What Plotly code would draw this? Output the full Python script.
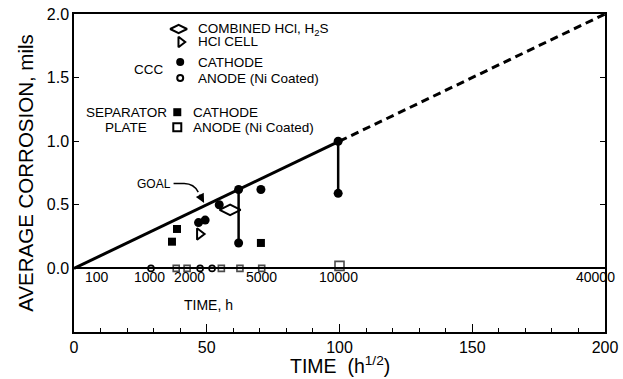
import plotly.graph_objects as go

# ---------------- data (x in h^1/2, y in mils) ----------------
goal_solid_x = [0, 100]
goal_solid_y = [0.0, 1.0]
goal_dash_x = [100, 200]
goal_dash_y = [1.0, 2.0]

combined_x = [58.8]
combined_y = [0.46]

hcl_cell_x = [47.3]
hcl_cell_y = [0.27]

ccc_cathode_x = [46.9, 49.4, 54.7, 62.0, 62.0, 70.4, 99.5, 99.5]
ccc_cathode_y = [0.36, 0.38, 0.50, 0.62, 0.20, 0.62, 1.00, 0.59]

# ranges joined by vertical bars (x, low, high)
range_x = [62.0, 99.5]
range_lo = [0.20, 0.59]
range_hi = [0.62, 1.00]

ccc_anode_x = [29.0, 47.5, 52.0]
ccc_anode_y = [0.0, 0.0, 0.0]

sep_cathode_x = [36.9, 38.8, 70.4]
sep_cathode_y = [0.21, 0.31, 0.20]

sep_anode_x = [38.5, 42.6, 55.5, 62.5, 70.7, 100.0]
sep_anode_y = [0.0, 0.0, 0.0, 0.0, 0.0, 0.02]
sep_anode_size = [6, 6, 6, 6, 6, 9]

hours_labels = ["100", "1000", "2000", "5000", "10000", "40000"]
hours_pos = [8.5, 28.5, 43.5, 70.7, 99.5, 196.5]

y_tickvals = [0.0, 0.5, 1.0, 1.5, 2.0]
y_ticktext = ["0.0", "0.5", "1.0", "1.5", "2.0"]
x_tickvals = [0, 50, 100, 150, 200]

# legend key rows: symbol, label, marker x, text x, y
legend_symbols = ["diamond-wide-open", "triangle-right-open", "circle", "circle-open", "square", "square-open"]
legend_labels = ["COMBINED HCl, H<sub>2</sub>S", "HCl CELL", "CATHODE", "ANODE (Ni Coated)", "CATHODE", "ANODE (Ni Coated)"]
legend_mx = [39.4, 40.2, 40.0, 40.0, 38.9, 38.9]
legend_tx = [46.0, 46.0, 46.0, 46.0, 44.2, 44.2]
legend_y = [1.882, 1.78, 1.622, 1.496, 1.228, 1.11]
legend_sizes = [12, 9, 8, 6, 8, 8]

FONT = "Liberation Sans, Arial, sans-serif"
TXT = 13.5
fig = go.Figure()

fig.add_trace(go.Scatter(x=goal_solid_x, y=goal_solid_y, mode="lines",
                         line=dict(color="black", width=3), hoverinfo="skip"))
fig.add_trace(go.Scatter(x=goal_dash_x, y=goal_dash_y, mode="lines",
                         line=dict(color="black", width=3, dash="8px,5px"), hoverinfo="skip"))

# vertical range bars
vx, vy = [], []
for xv, lo, hi in zip(range_x, range_lo, range_hi):
    vx += [xv, xv, None]
    vy += [lo, hi, None]
fig.add_trace(go.Scatter(x=vx, y=vy, mode="lines", line=dict(color="black", width=2.5)))

fig.add_trace(go.Scatter(x=combined_x, y=combined_y, mode="markers",
                         marker=dict(symbol="diamond-wide-open", size=15, color="black", line=dict(width=2))))
fig.add_trace(go.Scatter(x=hcl_cell_x, y=hcl_cell_y, mode="markers",
                         marker=dict(symbol="triangle-right-open", size=10, color="black", line=dict(width=2))))
fig.add_trace(go.Scatter(x=ccc_cathode_x, y=ccc_cathode_y, mode="markers",
                         marker=dict(symbol="circle", size=9, color="black")))
fig.add_trace(go.Scatter(x=ccc_anode_x, y=ccc_anode_y, mode="markers",
                         marker=dict(symbol="circle-open", size=6, color="black", line=dict(width=1.6))))
fig.add_trace(go.Scatter(x=sep_cathode_x, y=sep_cathode_y, mode="markers",
                         marker=dict(symbol="square", size=8, color="black")))
fig.add_trace(go.Scatter(x=sep_anode_x, y=sep_anode_y, mode="markers",
                         marker=dict(symbol="square-open", size=sep_anode_size, color="black", line=dict(width=1.6))))

# legend keys
for sym, mx, yy, sz in zip(legend_symbols, legend_mx, legend_y, legend_sizes):
    fig.add_trace(go.Scatter(x=[mx], y=[yy], mode="markers", hoverinfo="skip",
                             marker=dict(symbol=sym, size=sz, color="black", line=dict(width=2 if "open" in sym else 0))))

ann = []
for lab, tx, yy in zip(legend_labels, legend_tx, legend_y):
    ann.append(dict(x=tx, y=yy, text=lab, xanchor="left", yanchor="middle", showarrow=False,
                    font=dict(size=TXT, family=FONT, color="black")))
ann.append(dict(x=34.2, y=1.56, text="CCC", xanchor="right", yanchor="middle", showarrow=False,
                font=dict(size=TXT, family=FONT, color="black")))
ann.append(dict(x=19.6, y=1.228, text="SEPARATOR", xanchor="center", yanchor="middle", showarrow=False,
                font=dict(size=TXT, family=FONT, color="black")))
ann.append(dict(x=19.6, y=1.11, text="PLATE", xanchor="center", yanchor="middle", showarrow=False,
                font=dict(size=TXT, family=FONT, color="black")))
for lab, xp in zip(hours_labels, hours_pos):
    ann.append(dict(x=xp, y=-0.068, text=lab, xanchor="center", yanchor="middle", showarrow=False,
                    font=dict(size=14, family=FONT, color="black")))
ann.append(dict(x=50.5, y=-0.29, text="TIME, h", xanchor="center", yanchor="middle", showarrow=False,
                font=dict(size=14, family=FONT, color="black")))
ann.append(dict(x=30.0, y=0.667, text="GOAL", xanchor="center", yanchor="middle", showarrow=False,
                font=dict(size=12, family=FONT, color="black")))
ann.append(dict(x=49.0, y=0.515, ax=46.8, ay=0.60, axref="x", ayref="y", text=" ", showarrow=True,
                arrowhead=2, arrowsize=1.2, arrowwidth=1.5, arrowcolor="black", font=dict(size=2)))
# x-axis title
ann.append(dict(x=0.5, y=0.0, xref="paper", yref="paper", yshift=-33, text="TIME  (h<sup>1/2</sup>)",
                xanchor="center", yanchor="middle", showarrow=False,
                font=dict(size=19.5, family=FONT, color="black")))

fig.update_layout(
    width=623, height=379,
    margin=dict(l=74, r=18, t=14, b=47),
    paper_bgcolor="white", plot_bgcolor="white",
    showlegend=False,
    font=dict(family=FONT, color="black"),
    annotations=ann,
    shapes=[dict(type="path", xref="x", yref="y",
                 path="M 37.5,0.667 L 41.5,0.667 Q 45.2,0.665 46.8,0.60",
                 line=dict(color="black", width=1.5))],
)
fig.update_xaxes(range=[0, 200], tickvals=x_tickvals, ticks="inside", ticklen=8, tickwidth=1.3,
                 tickcolor="black", showline=True, linecolor="black", linewidth=1.5, mirror=True,
                 showgrid=False, zeroline=False, tickfont=dict(size=16, family=FONT), automargin=False,
                 minor=dict(dtick=10, ticks="inside", ticklen=4, tickcolor="black", showgrid=False))
fig.update_yaxes(range=[-0.5, 2.0], tickvals=y_tickvals, ticktext=y_ticktext, ticks="inside",
                 ticklen=5, tickcolor="black", showline=True, linecolor="black", linewidth=1.5,
                 mirror="ticks", showgrid=False, zeroline=True, zerolinecolor="black", zerolinewidth=1.5,
                 tickfont=dict(size=16, family=FONT), automargin=False,
                 title=dict(text="AVERAGE CORROSION, mils", font=dict(size=20.5, family=FONT), standoff=8))

fig.write_html("out.html")
